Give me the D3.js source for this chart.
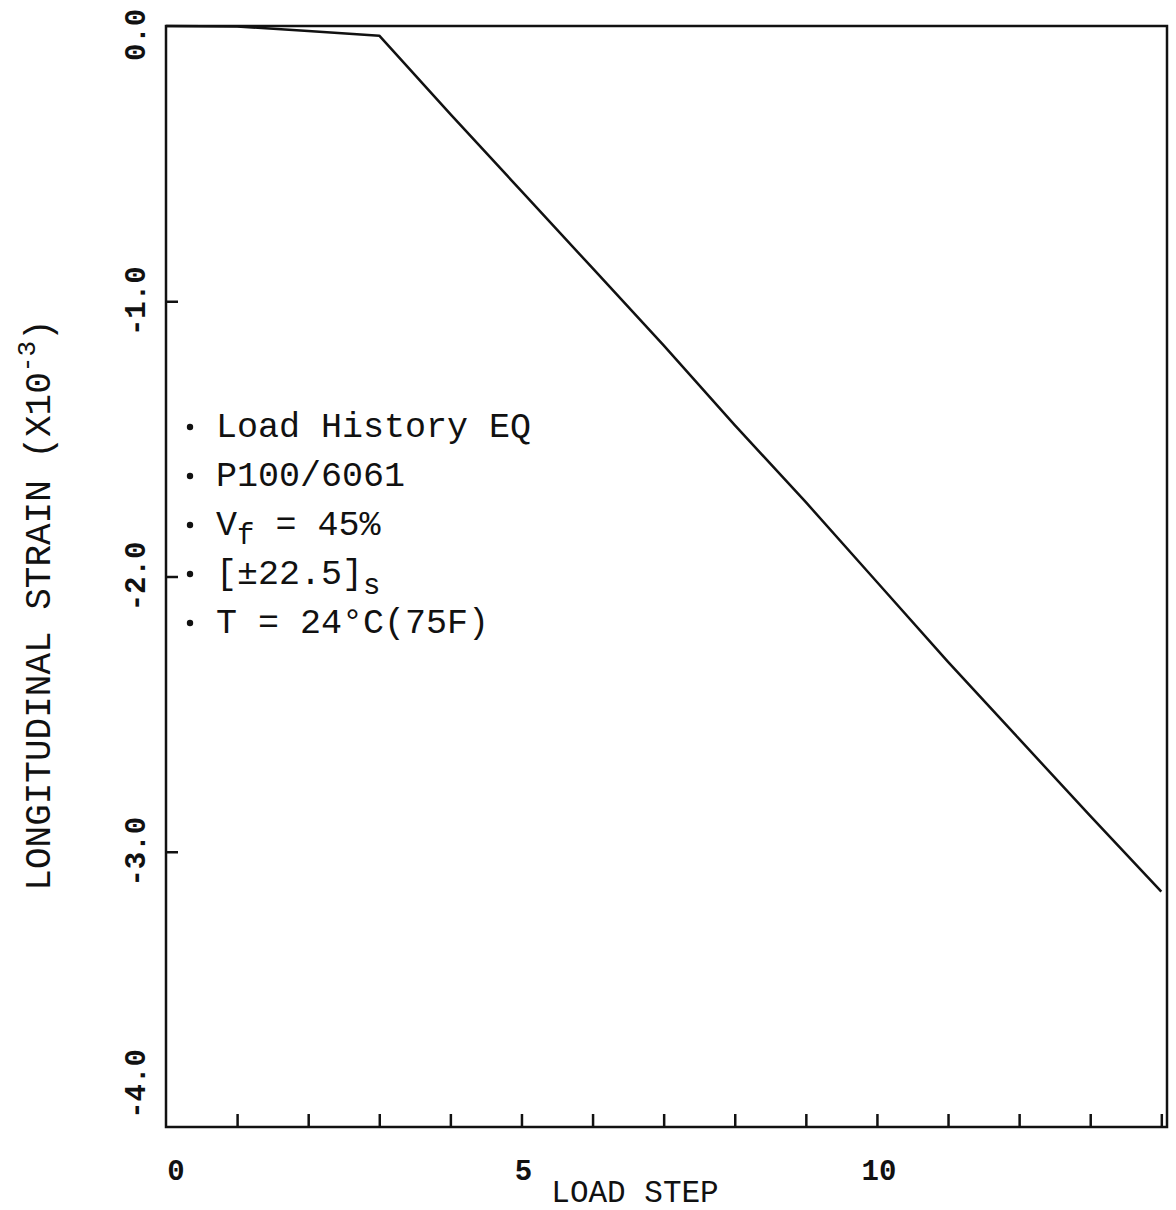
<!DOCTYPE html>
<html>
<head>
<meta charset="utf-8">
<script src="https://cdn.jsdelivr.net/npm/d3@7"></script>
<style>
  body { margin: 0; background: #fff; }
  text { font-family: "Liberation Mono", "Courier New", monospace; fill: #111; }
</style>
</head>
<body>
<div id="chart"></div>
<script>
// load step vs longitudinal strain (x10^-3)
const loadSteps = [0, 1, 2, 3, 4, 5, 6, 7, 8, 9, 10, 11, 12, 13, 14];
const strain = [0, -0.002, -0.018, -0.035, -0.32, -0.6, -0.88, -1.16, -1.45, -1.73, -2.02, -2.31, -2.59, -2.87, -3.145];
const yTicks = [0, -1, -2, -3, -4];
const xLabels = [0, 5, 10];
const notes = ["Load History EQ", "P100/6061", "Vf", "[±22.5]s", "T = 24°C(75F)"];

const width = 1176, height = 1210;
const svg = d3.select("#chart").append("svg")
    .attr("width", width)
    .attr("height", height);

const x = d3.scaleLinear().domain([0, 14.08]).range([166, 1167]);
const y = d3.scaleLinear().domain([-4, 0]).range([1127, 26]);

// frame
svg.append("rect")
    .attr("x", x(0)).attr("y", y(0))
    .attr("width", x(14.08) - x(0))
    .attr("height", y(-4) - y(0))
    .attr("fill", "none")
    .attr("stroke", "#111")
    .attr("stroke-width", 2.5);

// x ticks point up into the plot
const xAxis = d3.axisBottom(x)
    .tickValues(loadSteps.slice(1))
    .tickSize(-13)
    .tickFormat("");
svg.append("g")
    .attr("transform", `translate(0,${y(-4)})`)
    .call(xAxis)
    .call(g => g.select(".domain").remove())
    .call(g => g.selectAll("line").attr("stroke", "#111").attr("stroke-width", 2.5));

// y ticks point right
const yAxis = d3.axisLeft(y)
    .tickValues([-1, -2, -3])
    .tickSize(-12)
    .tickFormat("");
svg.append("g")
    .attr("transform", `translate(${x(0)},0)`)
    .call(yAxis)
    .call(g => g.select(".domain").remove())
    .call(g => g.selectAll("line").attr("stroke", "#111").attr("stroke-width", 2.5));

// y tick labels, rotated
svg.append("g")
    .selectAll("text")
    .data(yTicks)
    .enter().append("text")
    .attr("transform", d => {
        const cy = Math.min(Math.max(y(d), 35), 1084);
        return `translate(145,${cy}) rotate(-90)`;
    })
    .attr("text-anchor", "middle")
    .attr("font-size", "29px")
    .attr("font-weight", "bold")
    .text(d => d.toFixed(1));

// x tick labels
svg.append("g")
    .selectAll("text")
    .data(xLabels)
    .enter().append("text")
    .attr("x", d => x(d) + (d === 0 ? 10 : 2))
    .attr("y", 1180)
    .attr("text-anchor", "middle")
    .attr("font-size", "29px")
    .attr("font-weight", "bold")
    .text(d => d);

// axis titles
svg.append("text")
    .attr("x", 635)
    .attr("y", 1202)
    .attr("text-anchor", "middle")
    .attr("font-size", "31px")
    .text("LOAD STEP");

const yt = svg.append("text")
    .attr("transform", "translate(50,605) rotate(-90)")
    .attr("text-anchor", "middle")
    .attr("font-size", "36px");
yt.append("tspan").text("LONGITUDINAL STRAIN (X10");
yt.append("tspan").attr("dy", -15).attr("font-size", "26px").text("-3");
yt.append("tspan").attr("dy", 15).text(")");

// the strain curve
const line = d3.line()
    .x((d, i) => x(loadSteps[i]))
    .y(d => y(d));
svg.append("path")
    .datum(strain)
    .attr("d", line)
    .attr("fill", "none")
    .attr("stroke", "#111")
    .attr("stroke-width", 2.5)
    .attr("stroke-linejoin", "round");

// annotation block
const note = svg.append("g");
notes.forEach((t, i) => {
    const by = 437 + i * 49;
    note.append("circle")
        .attr("cx", 190).attr("cy", by - 10).attr("r", 3.2)
        .attr("fill", "#111");
    const tx = note.append("text").attr("x", 216).attr("y", by).attr("font-size", "35px");
    if (t === "Vf") {
        tx.append("tspan").text("V");
        tx.append("tspan").attr("dy", 9).attr("font-size", "29px").text("f");
        tx.append("tspan").attr("dy", -9).text(" = 45%");
    } else if (t === "[±22.5]s") {
        tx.append("tspan").text("[±22.5]");
        tx.append("tspan").attr("dy", 10).attr("font-size", "29px").text("s");
    } else {
        tx.text(t);
    }
});
</script>
</body>
</html>
